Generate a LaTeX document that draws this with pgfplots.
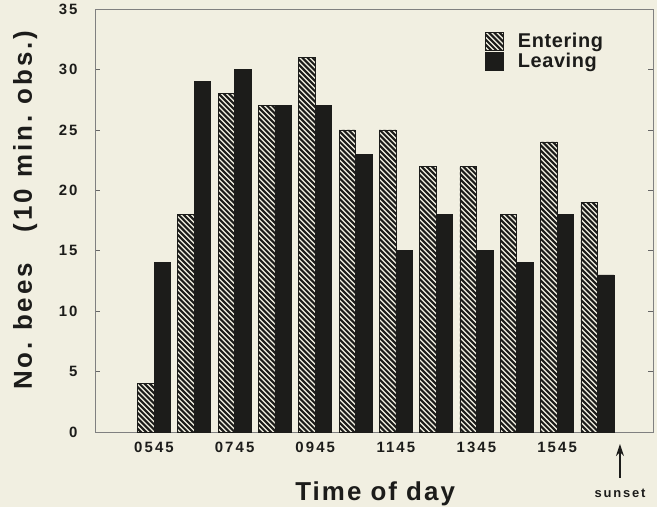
\documentclass[border=0pt]{standalone}
\usepackage{fontspec}
\setmainfont{Liberation Sans}
\usepackage{pgfplots}
\pgfplotsset{compat=1.18}
\usetikzlibrary{arrows.meta,calc}
\definecolor{paper}{RGB}{241,239,225}
\definecolor{ink}{RGB}{28,28,26}
\newcommand\tickfont{\fontsize{15}{15}\selectfont\bfseries\addfontfeatures{LetterSpace=14}}
\newcommand\labfont{\fontsize{26}{26}\selectfont\bfseries\addfontfeatures{LetterSpace=8}}
\newcommand\ylabfont{\fontsize{26}{26}\selectfont\bfseries\addfontfeatures{LetterSpace=11}}
\newcommand\legfont{\fontsize{20}{20}\selectfont\bfseries\addfontfeatures{LetterSpace=3}}
% diagonal hatching (top left to bottom right), clipped to the bar path
\tikzset{hatched/.style={postaction={path picture={
  \foreach \k in {-110,...,82} {
    \draw[ink, line width=2.1bp]
      ($(path picture bounding box.north west)+(-2bp,-\k*5.2bp)$) -- ++(620bp,-620bp);
  }}}}}
\begin{document}
\begin{tikzpicture}
\fill[paper] (0,0) rectangle (657bp,507bp);
\useasboundingbox (0,0) rectangle (657bp,507bp);
\begin{axis}[
  at={(95bp,75bp)}, anchor=south west,
  scale only axis, width=558bp, height=423bp,
  xmin=-1.464, xmax=12.38, ymin=0, ymax=35,
  ytick={0,5,...,35},
  xtick={0,2,4,6,8,10},
  xticklabels={0545,0745,0945,1145,1345,1545},
  xtick style={draw=none},
  tick align=inside, major tick length=5bp,
  ytick style={draw=black!60, line width=0.6bp},
  axis line style={draw=black!50, line width=0.6bp},
  /pgf/number format/assume math mode=true,
  ticklabel style={font=\tickfont, text=ink},
  yticklabel style={anchor=east, xshift=-14bp},
  xticklabel style={anchor=north, yshift=-7bp},
  xlabel={Time\hspace{0.35em}of\hspace{0.35em}day},
  xlabel style={font=\labfont, text=ink, at={(axis description cs:0.502,-0.162)}, anchor=base},
  ylabel={No.\hspace{0.45em}bees\hspace{1.2em}(10\hspace{0.45em}min.\hspace{0.45em}obs.)},
  ylabel style={font=\ylabfont, text=ink, at={(axis description cs:-0.113,0.524)}, anchor=base, rotate=0},
  legend style={at={(rel axis cs:0.699,0.946)}, anchor=north west, draw=none, fill=none,
    inner sep=0pt, row sep=1bp, font=\legfont, text=ink,
    nodes={inner sep=1bp}},
  legend cell align=left,
  legend image code/.code={\draw[#1] (0bp,-9bp) rectangle (18bp,9bp); \path (31bp,0bp);},
  clip=false,
]
% bees entering the nest per 10-minute observation
\addplot[ybar, bar width=0.41, bar shift=-0.205, draw=ink, line width=0.7bp, fill=paper, hatched]
  coordinates {(0,4) (1,18) (2,28) (3,27) (4,31) (5,25) (6,25) (7,22) (8,22) (9,18) (10,24) (11,19)};
% bees leaving the nest
\addplot[ybar, bar width=0.41, bar shift=0.205, draw=ink, line width=0.7bp, fill=ink]
  coordinates {(0,14) (1,29) (2,30) (3,27) (4,27) (5,23) (6,15) (7,18) (8,15) (9,14) (10,18) (11,13)};
\legend{Entering, Leaving}
% sunset marker below the time axis
\draw[-{Stealth[length=12bp,width=8bp]}, line width=1.2bp, ink]
  (axis cs:11.56,-3.8) -- (axis cs:11.56,-1.0);
\node[font=\fontsize{13}{13}\selectfont\bfseries\addfontfeatures{LetterSpace=14}, text=ink]
  at (axis cs:11.56,-5.1) {sunset};
\end{axis}
\end{tikzpicture}
\end{document}
